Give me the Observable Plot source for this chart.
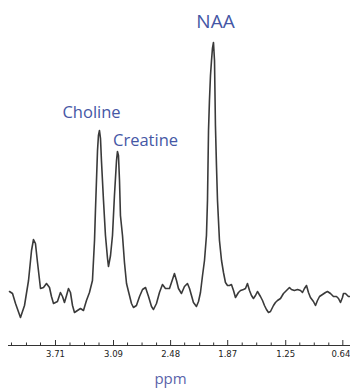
<!DOCTYPE html>
<html><head><meta charset="utf-8">
<script src="https://cdn.jsdelivr.net/npm/d3@7"></script>
<script src="https://cdn.jsdelivr.net/npm/@observablehq/plot@0.6"></script>
<style>html,body{margin:0;padding:0;background:#fff}</style>
</head><body><div id="chart"></div>
<script>
// Chemical shift (ppm) and signal intensity (a.u.)
const ppm = [4.201,4.169,4.137,4.084,4.041,3.998,3.966,3.945,3.924,3.902,
3.870,3.838,3.806,3.774,3.753,3.731,3.689,3.657,3.635,3.614,
3.592,3.571,3.550,3.528,3.507,3.475,3.443,3.411,3.379,3.347,
3.315,3.293,3.283,3.272,3.261,3.251,3.240,3.229,3.219,3.197,
3.176,3.154,3.144,3.122,3.101,3.080,3.058,3.048,3.037,3.026,
3.016,2.994,2.973,2.951,2.930,2.898,2.877,2.845,2.812,2.780,
2.748,2.716,2.684,2.663,2.631,2.599,2.567,2.535,2.492,2.460,
2.439,2.417,2.396,2.364,2.332,2.300,2.278,2.257,2.236,2.204,
2.182,2.161,2.139,2.118,2.097,2.086,2.075,2.065,2.054,2.043,
2.033,2.022,2.011,2.001,1.990,1.979,1.958,1.936,1.915,1.894,
1.872,1.851,1.830,1.808,1.787,1.755,1.733,1.701,1.680,1.659,
1.637,1.616,1.595,1.573,1.552,1.520,1.498,1.477,1.456,1.434,
1.413,1.381,1.360,1.338,1.306,1.274,1.242,1.210,1.189,1.157,
1.124,1.092,1.071,1.050,1.028,1.007,0.986,0.954,0.932,0.911,
0.889,0.857,0.825,0.804,0.772,0.740,0.708,0.686,0.665,0.644,
0.633,0.612,0.580,0.558];
const intensity = [54,52,42,28,40,65,95,106,102,83,
57,58,62,58,49,42,44,53,49,43,
50,57,53,40,33,35,37,35,45,53,
65,105,135,165,195,210,215,207,185,145,
110,87,79,90,110,150,185,194,190,165,
130,110,83,62,54,42,38,40,49,56,
58,49,39,36,42,53,61,57,57,66,
72,65,57,52,59,62,57,50,43,39,
44,53,70,85,110,145,215,245,270,285,
297,303,285,220,180,145,105,85,73,63,
60,60,61,55,48,53,55,56,57,62,
55,50,47,50,54,49,45,40,36,33,
34,40,43,45,47,52,55,58,56,55,
56,55,53,57,60,53,48,44,40,45,
49,51,53,54,52,49,49,47,43,48,
52,52,49,49];
const majorTicks = [3.71, 3.09, 2.48, 1.87, 1.25, 0.64];
const minorTicks = [4.18, 4.02, 3.87, 3.555, 3.40, 3.245, 2.94, 2.785, 2.63,
  2.33, 2.17, 2.02, 1.715, 1.56, 1.405, 1.10, 0.945, 0.79];
const peakNames = ["Choline", "Creatine", "NAA"];
const peakLabelPpm = [3.325, 2.748, 2.0];
const peakLabelIntensity = [233, 205, 323.5];
const peakLabelSize = [16.5, 16.5, 19];
const axisTitle = "ppm";

const spectrum = ppm.map((p, i) => ({ppm: p, intensity: intensity[i]}));
const peaks = peakNames.map((n, i) => ({name: n, ppm: peakLabelPpm[i], intensity: peakLabelIntensity[i], size: peakLabelSize[i]}));
const innerLabels = majorTicks.slice(0, -1);
const edgeLabel = majorTicks.slice(-1);
const labelStyle = {tickSize: 0, tickPadding: 5.5, tickFormat: d3.format(".2f"), label: null,
  fontFamily: "DejaVu Sans", fontSize: 8.5, fill: "#222"};

const chart = Plot.plot({
  width: 350,
  height: 390,
  marginLeft: 8,
  marginRight: 0,
  marginTop: 0,
  marginBottom: 45,
  style: {background: "#fff"},
  x: {domain: [4.212, 0.558], axis: null},
  y: {domain: [0, 345], axis: null},
  marks: [
    Plot.ruleY([0], {stroke: "#333", strokeWidth: 1}),
    Plot.ruleX(majorTicks, {x: d => d, y1: 0, y2: 5, stroke: "#333", strokeWidth: 1}),
    Plot.ruleX(minorTicks, {x: d => d, y1: 0, y2: 2.5, stroke: "#333", strokeWidth: 1}),
    Plot.axisX(innerLabels, labelStyle),
    Plot.axisX(edgeLabel, {...labelStyle, textAnchor: "end", dx: 7.5}),
    Plot.line(spectrum, {x: "ppm", y: "intensity", stroke: "#3a3a3a", strokeWidth: 1.6, strokeLinejoin: "round"}),
    Plot.text(peaks, {x: "ppm", y: "intensity", text: "name", fontSize: d => d.size,
      fontFamily: "Open Sans", fill: "#4557a5", textAnchor: "middle", lineAnchor: "middle"}),
    Plot.text([axisTitle], {frameAnchor: "bottom", dx: -9, dy: 34, text: d => d,
      fontFamily: "Open Sans", fontSize: 15, fill: "#5a63aa", lineAnchor: "middle"})
  ]
});
document.getElementById("chart").appendChild(chart);
</script>
</body></html>
